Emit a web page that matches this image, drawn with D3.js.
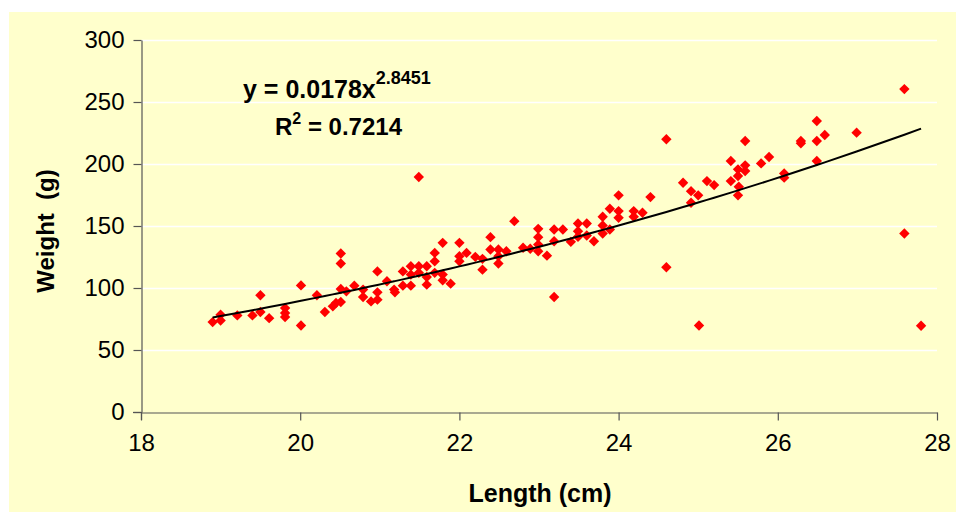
<!DOCTYPE html>
<html>
<head>
<meta charset="utf-8">
<script src="https://cdn.jsdelivr.net/npm/d3@7/dist/d3.min.js"></script>
<style>
  html, body { margin: 0; padding: 0; background: #ffffff; }
  svg { display: block; }
  text { font-family: "Liberation Sans", Arial, sans-serif; }
</style>
</head>
<body>
<svg id="chart" width="964" height="515"></svg>
<script>
// Fish length (cm) and weight (g) measurements
const lengthCm = [
  18.90, 19.00, 19.00, 19.21, 19.40, 19.50, 19.50, 19.61, 19.81, 19.81, 19.81,
  20.01, 20.01, 20.21, 20.31, 20.41, 20.45, 20.51, 20.51, 20.51, 20.51, 20.58,
  20.68, 20.79, 20.79, 20.89, 20.97, 20.97, 20.97, 21.09, 21.18, 21.19, 21.29,
  21.29, 21.39, 21.39, 21.39, 21.49, 21.49, 21.49, 21.59, 21.59, 21.59, 21.69,
  21.69, 21.69, 21.79, 21.79, 21.79, 21.89, 22.00, 22.00, 22.00, 22.09, 22.20,
  22.29, 22.29, 22.39, 22.39, 22.49, 22.49, 22.49, 22.59, 22.69, 22.80, 22.89,
  22.99, 22.99, 22.99, 22.99, 23.10, 23.19, 23.19, 23.19, 23.30, 23.40, 23.49,
  23.49, 23.49, 23.60, 23.60, 23.69, 23.80, 23.80, 23.80, 23.89, 23.89, 24.00,
  24.00, 24.00, 24.19, 24.19, 24.30, 24.40, 24.60, 24.60, 24.81, 24.91, 24.91,
  25.00, 25.01, 25.11, 25.20, 25.41, 25.41, 25.50, 25.50, 25.50, 25.51, 25.59,
  25.59, 25.59, 25.79, 25.89, 26.08, 26.08, 26.29, 26.29, 26.49, 26.49, 26.49,
  26.59, 26.99, 27.59, 27.59, 27.80
];
const weightG = [
  72.5, 78.4, 73.8, 77.9, 77.9, 94.1, 80.6, 75.7, 83.8, 79.8, 76.6,
  102.1, 69.8, 94.1, 80.6, 85.2, 88.0, 127.8, 119.7, 99.2, 88.7, 97.3,
  101.9, 98.7, 92.7, 89.2, 113.4, 96.5, 90.6, 105.4, 98.7, 96.5, 113.4,
  101.9, 117.5, 110.8, 101.9, 189.5, 117.5, 112.2, 117.5, 108.9, 102.7, 128.3,
  121.5, 112.2, 136.4, 110.8, 106.2, 103.5, 136.4, 125.6, 121.5, 128.3, 125.1,
  114.8, 123.5, 141.0, 131.0, 131.0, 125.6, 119.7, 129.6, 153.9, 132.4, 131.6,
  147.7, 141.0, 135.0, 129.6, 126.1, 147.2, 137.7, 92.7, 147.2, 137.2, 152.0,
  145.8, 141.3, 152.0, 142.3, 137.7, 157.4, 150.4, 143.9, 163.9, 147.2, 174.7,
  162.0, 156.6, 162.0, 157.4, 160.7, 173.3, 219.9, 116.7, 184.9, 178.1, 168.7,
  174.7, 69.8, 186.2, 183.0, 202.4, 186.2, 195.7, 190.3, 174.7, 181.7, 218.6,
  198.9, 194.3, 200.5, 205.6, 192.4, 189.0, 218.6, 216.7, 234.7, 218.6, 202.4,
  223.4, 225.3, 260.4, 143.9, 69.5
];

// Power trendline y = a * x^b and its goodness of fit
const fitA = 0.0178;
const fitB = 2.8451;
const fitR2 = 0.7214;

const xTicks = [18, 20, 22, 24, 26, 28];
const yTicks = [0, 50, 100, 150, 200, 250, 300];

const svg = d3.select("#chart");

const frame = { left: 141, right: 937, top: 40, bottom: 412 };

const x = d3.scaleLinear().domain([18, 28]).range([frame.left, frame.right]);
const y = d3.scaleLinear().domain([0, 300]).range([frame.bottom, frame.top]);

// Chart area background
svg.append("rect")
  .attr("x", 9).attr("y", 12)
  .attr("width", 947).attr("height", 500)
  .attr("fill", "#ffffcc");

// Horizontal gridlines
svg.append("g")
  .selectAll("line")
  .data(yTicks.filter(d => d > 0))
  .join("line")
  .attr("x1", x(18)).attr("x2", x(28))
  .attr("y1", d => Math.round(y(d)) + 0.5)
  .attr("y2", d => Math.round(y(d)) + 0.5)
  .attr("stroke", "#ffffff")
  .attr("stroke-width", 1.5);

// Axes
const xAxis = d3.axisBottom(x).tickValues(xTicks).tickSize(8).tickSizeOuter(0).tickPadding(13);
const yAxis = d3.axisLeft(y).tickValues(yTicks).tickSize(8).tickSizeOuter(0).tickPadding(9);

const gx = svg.append("g")
  .attr("transform", `translate(0,${Math.round(y(0)) + 0.5})`)
  .call(xAxis);
const gy = svg.append("g")
  .attr("transform", `translate(${Math.round(x(18)) + 0.5},0)`)
  .call(yAxis);

[gx, gy].forEach(g => {
  g.select(".domain").attr("stroke", "#555555").attr("stroke-width", 1.2);
  g.selectAll(".tick line").attr("stroke", "#555555").attr("stroke-width", 1.2);
  g.selectAll(".tick text")
    .attr("fill", "#000000")
    .style("font-size", "24px")
    .style("font-family", "'Liberation Sans', Arial, sans-serif");
});
// Extend each axis line past the origin by one tick length
gy.append("line")
  .attr("x1", 0).attr("x2", 0)
  .attr("y1", y(0)).attr("y2", y(0) + 8)
  .attr("stroke", "#555555").attr("stroke-width", 1.2);
gx.append("line")
  .attr("x1", x(18) - 8).attr("x2", x(18))
  .attr("y1", 0).attr("y2", 0)
  .attr("stroke", "#555555").attr("stroke-width", 1.2);

// Data points as red diamonds
const pts = lengthCm.map((l, i) => ({ l, w: weightG[i] }));
const r = 5.2;
svg.append("g")
  .selectAll("path")
  .data(pts)
  .join("path")
  .attr("transform", d => `translate(${x(d.l)},${y(d.w)})`)
  .attr("d", `M0,${-r}L${r},0L0,${r}L${-r},0Z`)
  .attr("fill", "#ff0000");

// Trendline evaluated at each observed length
const trendX = Array.from(new Set(lengthCm)).sort((a, b) => a - b);
const trend = trendX.map(l => ({ l, w: fitA * Math.pow(l, fitB) }));
svg.append("path")
  .datum(trend)
  .attr("fill", "none")
  .attr("stroke", "#000000")
  .attr("stroke-width", 2)
  .attr("d", d3.line().x(d => x(d.l)).y(d => y(d.w)));

// Trendline equation and R-squared
const eq = svg.append("text")
  .attr("x", 243).attr("y", 98)
  .style("font-size", "25px")
  .style("font-weight", "bold");
eq.append("tspan").text(`y = ${fitA}x`);
eq.append("tspan").attr("dy", -14).style("font-size", "18px").text(fitB);

const r2 = svg.append("text")
  .attr("x", 275).attr("y", 135)
  .style("font-size", "24px")
  .style("font-weight", "bold");
r2.append("tspan").text("R");
r2.append("tspan").attr("dy", -11).style("font-size", "16px").text("2");
r2.append("tspan").attr("dy", 11).text(` = ${fitR2}`);

// Axis titles
svg.append("text")
  .attr("x", 540).attr("y", 502)
  .attr("text-anchor", "middle")
  .style("font-size", "25px")
  .style("font-weight", "bold")
  .text("Length (cm)");

svg.append("text")
  .attr("transform", "translate(54,231) rotate(-90)")
  .attr("text-anchor", "middle")
  .style("font-size", "24px")
  .style("font-weight", "bold")
  .attr("xml:space", "preserve")
  .text("Weight  (g)");
</script>
</body>
</html>
